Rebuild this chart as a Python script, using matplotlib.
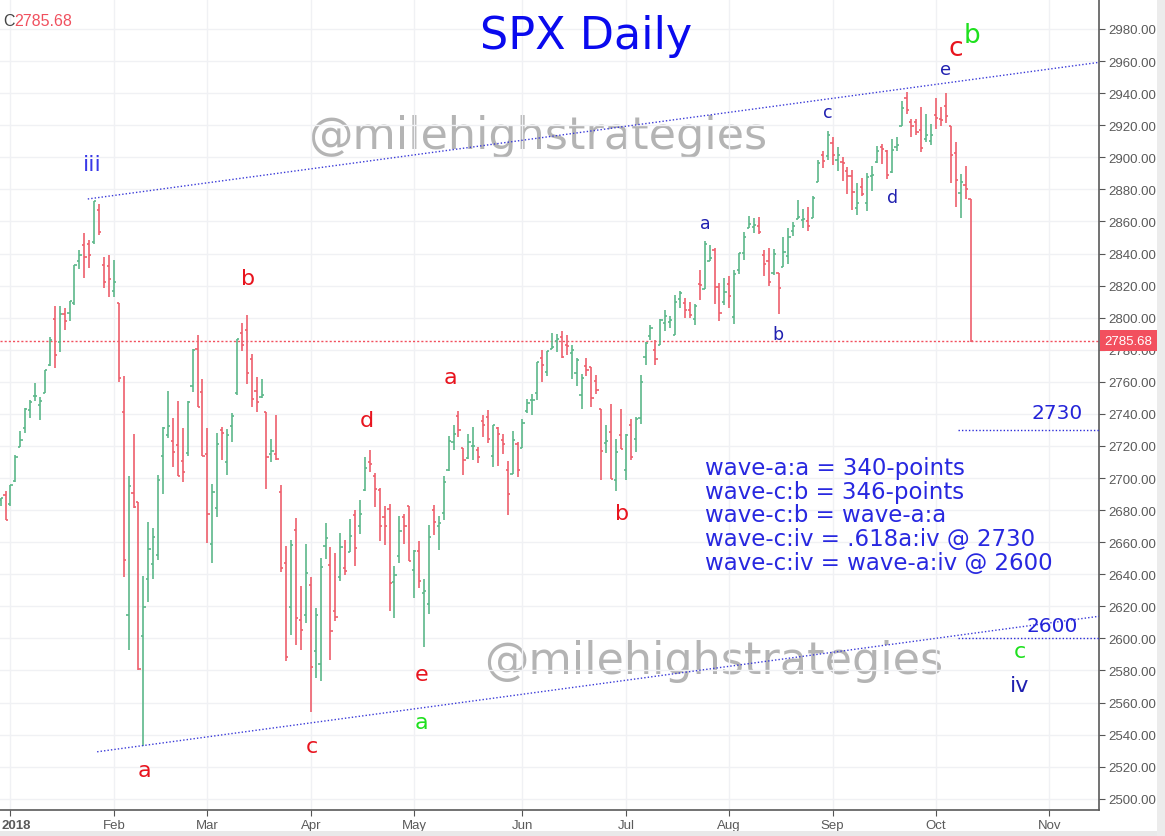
import numpy as np
import matplotlib.pyplot as plt
import matplotlib.transforms as mtransforms
from matplotlib.patches import Rectangle

# SPX daily OHLC, 2017-12-28 .. 2018-10-10 (trading days only)
opens = [2686.10, 2689.15,
    2683.73, 2697.85, 2719.31, 2731.33, 2742.67, 2751.15, 2745.55, 2752.97, 2770.18, 2798.96, 2784.99,
    2802.40, 2802.60, 2809.16, 2835.05, 2845.42, 2846.24, 2847.48, 2867.23, 2832.74, 2832.41,
    2816.45, 2808.92, 2741.06, 2614.78, 2690.95, 2685.01, 2601.78, 2636.75, 2646.27, 2651.83,
    2713.46, 2727.14, 2722.99, 2720.53, 2710.42, 2715.80, 2757.37, 2780.45, 2753.78,
    2715.22, 2658.89, 2681.06, 2730.18, 2710.18, 2732.75, 2752.91, 2790.54, 2792.31, 2774.06, 2754.27,
    2750.57, 2740.95, 2715.05, 2714.99, 2691.36, 2646.71, 2619.35, 2667.57, 2611.30, 2614.41,
    2633.45, 2592.17, 2584.04, 2657.36, 2645.82, 2617.18, 2638.41, 2643.79, 2653.83, 2676.90, 2670.10,
    2692.74, 2710.11, 2701.16, 2692.56, 2675.40, 2680.80, 2634.92, 2651.65, 2675.47, 2682.51,
    2642.96, 2654.24, 2628.08, 2621.45, 2680.34, 2670.26, 2678.12, 2705.02, 2722.70, 2738.47, 2718.59,
    2712.62, 2719.71, 2717.35, 2735.39, 2738.34, 2713.98, 2730.94, 2723.60, 2705.11, 2702.43, 2720.98,
    2718.70, 2741.67, 2748.46, 2753.25, 2774.84, 2765.84, 2780.18, 2785.60, 2787.94, 2783.21, 2777.78,
    2765.79, 2752.01, 2769.73, 2769.28, 2760.79, 2742.94, 2722.12, 2728.45, 2698.69, 2727.13,
    2704.95, 2733.27, 2724.19, 2737.68, 2775.62, 2788.56, 2779.82, 2783.14, 2796.93, 2797.36, 2789.34,
    2811.35, 2809.37, 2804.55, 2799.17, 2820.68, 2817.73, 2835.49, 2842.35, 2819.00, 2809.73,
    2821.17, 2800.48, 2829.62, 2840.29, 2855.92, 2856.79, 2857.19, 2838.90, 2835.46, 2827.88, 2827.95,
    2831.44, 2838.32, 2853.93, 2861.51, 2860.99, 2860.29, 2862.35, 2884.69, 2901.45, 2900.62, 2908.94, 2898.37,
    2896.96, 2891.59, 2888.64, 2868.26, 2881.39, 2871.57, 2888.29, 2896.85, 2906.38, 2903.83,
    2890.74, 2906.60, 2919.73, 2936.76, 2921.83, 2921.75, 2916.98, 2911.65, 2910.03,
    2926.29, 2923.80, 2931.69, 2919.35, 2902.54, 2877.53, 2882.51, 2873.90]

highs = [2687.66, 2692.12,
    2695.89, 2714.37, 2729.29, 2743.45, 2748.51, 2759.14, 2750.80, 2767.56, 2787.85, 2807.54, 2807.04,
    2805.83, 2810.33, 2833.03, 2842.24, 2852.97, 2848.56, 2872.87, 2870.62, 2837.75, 2839.26,
    2835.96, 2808.92, 2763.39, 2701.04, 2727.67, 2685.27, 2638.67, 2672.61, 2668.84, 2702.10,
    2731.51, 2754.42, 2737.60, 2747.75, 2731.26, 2747.76, 2780.64, 2789.15, 2761.52,
    2730.89, 2696.25, 2728.09, 2732.08, 2730.60, 2740.45, 2786.57, 2796.98, 2801.90, 2777.11, 2763.03,
    2761.85, 2740.95, 2724.22, 2739.14, 2695.68, 2657.67, 2661.36, 2674.78, 2632.65, 2659.07,
    2638.30, 2619.14, 2649.86, 2672.08, 2656.88, 2653.55, 2665.45, 2661.43, 2674.72, 2680.26, 2686.49,
    2713.34, 2717.49, 2702.84, 2693.94, 2682.86, 2683.55, 2645.30, 2676.48, 2677.35, 2682.87,
    2655.27, 2660.87, 2637.14, 2670.93, 2683.35, 2676.34, 2701.27, 2726.11, 2732.86, 2742.10, 2718.59,
    2727.76, 2731.96, 2719.50, 2739.19, 2742.24, 2733.33, 2731.97, 2727.36, 2710.67, 2729.34, 2722.50,
    2736.93, 2749.16, 2752.61, 2772.39, 2779.90, 2779.39, 2790.21, 2789.80, 2791.47, 2789.06, 2782.81,
    2774.99, 2765.05, 2774.86, 2769.28, 2764.17, 2742.94, 2732.91, 2746.09, 2724.34, 2743.26,
    2727.26, 2736.58, 2737.83, 2764.41, 2784.65, 2795.58, 2785.91, 2799.22, 2804.53, 2801.19, 2814.19,
    2816.76, 2812.05, 2809.70, 2808.61, 2829.99, 2848.03, 2845.57, 2843.17, 2821.74, 2824.46,
    2825.83, 2829.91, 2840.38, 2853.29, 2863.43, 2862.44, 2862.48, 2842.20, 2843.40, 2843.11, 2827.95,
    2850.49, 2855.63, 2859.76, 2873.23, 2867.54, 2868.78, 2876.16, 2898.25, 2903.77, 2916.50, 2912.46, 2906.32,
    2900.18, 2894.21, 2892.05, 2883.81, 2886.93, 2890.43, 2894.65, 2906.76, 2908.30, 2904.65,
    2911.17, 2912.36, 2934.80, 2940.91, 2923.79, 2923.95, 2931.15, 2927.22, 2920.53,
    2937.06, 2931.42, 2939.86, 2919.78, 2909.64, 2889.45, 2894.83, 2874.02]

lows = [2682.69, 2673.61,
    2682.36, 2697.77, 2719.07, 2727.92, 2737.60, 2747.86, 2736.06, 2752.78, 2769.64, 2768.64, 2778.38,
    2792.56, 2798.08, 2808.12, 2830.59, 2824.81, 2830.94, 2846.18, 2851.48, 2818.27, 2813.04,
    2812.70, 2759.97, 2638.17, 2593.07, 2681.33, 2580.56, 2532.69, 2622.45, 2637.08, 2648.87,
    2689.82, 2725.11, 2706.76, 2701.29, 2697.77, 2713.74, 2753.78, 2744.22, 2713.54,
    2659.65, 2647.32, 2675.75, 2711.26, 2701.74, 2722.65, 2751.54, 2779.26, 2758.68, 2744.38, 2741.47,
    2749.97, 2693.38, 2710.05, 2711.11, 2641.59, 2585.89, 2601.81, 2596.12, 2593.06, 2609.72,
    2553.80, 2575.49, 2573.61, 2649.58, 2586.27, 2610.79, 2635.78, 2639.25, 2653.83, 2645.05, 2665.16,
    2692.05, 2703.63, 2681.90, 2660.61, 2657.99, 2617.32, 2612.67, 2647.16, 2659.01, 2648.04,
    2625.41, 2631.70, 2594.62, 2615.32, 2664.70, 2655.20, 2674.14, 2704.54, 2717.45, 2725.47, 2701.91,
    2712.17, 2711.36, 2709.18, 2725.70, 2721.88, 2707.16, 2707.38, 2714.99, 2676.81, 2702.43, 2700.68,
    2718.70, 2740.54, 2739.51, 2748.46, 2760.16, 2763.59, 2780.17, 2778.78, 2774.65, 2776.52, 2761.73,
    2757.12, 2743.19, 2763.91, 2744.39, 2752.68, 2698.67, 2715.60, 2699.38, 2691.99, 2718.03,
    2698.95, 2711.16, 2716.02, 2733.52, 2770.73, 2786.24, 2770.77, 2783.14, 2791.69, 2793.39, 2789.24,
    2805.89, 2799.77, 2800.01, 2795.14, 2811.12, 2817.73, 2835.26, 2808.34, 2798.11, 2808.06,
    2805.85, 2796.34, 2827.37, 2835.98, 2855.92, 2853.09, 2851.98, 2825.81, 2819.88, 2826.58, 2802.49,
    2831.44, 2833.73, 2850.62, 2861.32, 2856.05, 2854.03, 2862.35, 2884.69, 2893.50, 2898.40, 2895.22, 2891.73,
    2885.13, 2876.92, 2867.29, 2864.12, 2875.94, 2866.78, 2879.20, 2896.39, 2895.77, 2886.16,
    2890.43, 2903.82, 2919.73, 2927.11, 2912.63, 2913.70, 2903.28, 2909.27, 2907.50,
    2917.91, 2919.37, 2921.36, 2883.92, 2869.29, 2862.08, 2874.27, 2784.86]

closes = [2687.54, 2673.61,
    2695.81, 2713.06, 2723.99, 2743.15, 2747.71, 2751.29, 2748.23, 2767.56, 2786.24, 2776.42, 2802.56,
    2798.03, 2810.30, 2832.97, 2839.13, 2837.54, 2839.25, 2872.87, 2853.53, 2822.43, 2823.81,
    2821.98, 2762.13, 2648.94, 2695.14, 2681.66, 2581.00, 2619.55, 2656.00, 2662.94, 2698.63,
    2731.20, 2732.22, 2716.26, 2701.33, 2703.96, 2747.30, 2779.60, 2744.28, 2713.83,
    2677.67, 2691.25, 2720.94, 2728.12, 2726.80, 2738.97, 2786.57, 2783.02, 2765.31, 2749.48, 2747.33,
    2752.01, 2712.92, 2716.94, 2711.93, 2643.69, 2588.26, 2658.55, 2612.62, 2605.00, 2640.87,
    2581.88, 2614.45, 2644.69, 2662.84, 2604.47, 2613.16, 2656.87, 2642.19, 2663.99, 2656.30, 2677.84,
    2706.39, 2708.64, 2693.13, 2670.14, 2670.29, 2634.56, 2639.40, 2666.94, 2669.91, 2648.05,
    2654.80, 2635.67, 2629.73, 2663.42, 2672.63, 2671.92, 2697.79, 2723.07, 2727.72, 2730.13, 2711.45,
    2722.46, 2720.13, 2712.97, 2733.01, 2724.44, 2733.29, 2727.76, 2721.33, 2689.86, 2724.01, 2705.27,
    2734.62, 2746.87, 2748.80, 2772.35, 2770.37, 2779.03, 2782.00, 2786.85, 2775.63, 2782.49, 2779.66,
    2773.75, 2762.59, 2767.32, 2749.76, 2754.88, 2717.07, 2723.06, 2699.63, 2716.31, 2718.37,
    2726.71, 2713.22, 2736.61, 2759.82, 2784.17, 2793.84, 2774.02, 2798.29, 2801.31, 2798.43, 2809.55,
    2815.62, 2804.49, 2801.83, 2806.98, 2820.40, 2846.07, 2837.44, 2818.82, 2802.60, 2816.29,
    2813.36, 2827.22, 2840.35, 2850.40, 2858.45, 2857.70, 2853.58, 2833.28, 2821.93, 2839.96, 2818.37,
    2840.69, 2850.13, 2857.05, 2862.96, 2861.82, 2856.98, 2874.69, 2896.74, 2897.52, 2914.04, 2901.13, 2901.52,
    2896.72, 2888.60, 2878.05, 2871.68, 2877.13, 2887.89, 2888.92, 2904.18, 2904.98, 2888.80,
    2904.31, 2907.95, 2930.75, 2929.67, 2919.37, 2915.56, 2905.97, 2914.00, 2913.98,
    2924.59, 2923.43, 2925.51, 2901.61, 2885.57, 2884.43, 2880.34, 2785.68]

month_labels = ['2018', 'Feb', 'Mar', 'Apr', 'May', 'Jun', 'Jul', 'Aug', 'Sep', 'Oct', 'Nov']
month_pos = [0, 21, 40, 61, 82, 104, 125, 146, 167, 188, 211]   # bar index (0 = Jan 2)

# channel lines and target levels
upper_x, upper_y = [15.7, 221.1], [2874.0, 2959.2]
lower_x, lower_y = [17.6, 221.1], [2529.3, 2613.8]
targets = [2730, 2600]

info = ("wave-a:a = 340-points\nwave-c:b = 346-points\nwave-c:b = wave-a:a\n"
        "wave-c:iv = .618a:iv @ 2730\nwave-c:iv = wave-a:iv @ 2600")

red, green, navy = '#e8141e', '#1ee01e', '#2020b0'
# wave labels: (bar index, price, text, color, size)
wave_labels = [
    (16.6, 2896, 'iii', '#3838e8', 16),
    (27.3, 2518, 'a', red, 16), (48.2, 2825, 'b', red, 16),
    (61.2, 2533, 'c', red, 16), (72.4, 2736, 'd', red, 16),
    (83.4, 2578, 'e', red, 16), (83.4, 2548, 'a', green, 16),
    (89.3, 2763, 'a', red, 16), (124.2, 2678, 'b', red, 16),
    (141.1, 2859, 'a', navy, 12.5), (155.9, 2790, 'b', navy, 12.5),
    (166.1, 2928, 'c', navy, 12.5), (179.1, 2875, 'd', navy, 12.5),
    (190.0, 2955, 'e', navy, 13),
    (192.1, 2968, 'c', red, 19), (195.3, 2976, 'b', green, 19),
    (212.6, 2741, '2730', '#2424d8', 14.5), (211.6, 2608, '2600', '#2424d8', 14.5),
    (205.1, 2592, 'c', green, 16), (204.9, 2571, 'iv', navy, 16),
]

up_col, dn_col = '#5cb88a', '#ee5f6c'

opens, highs, lows, closes = map(np.array, (opens, highs, lows, closes))
idx = np.arange(len(closes)) - 2
cols = np.where(closes >= opens, up_col, dn_col)

fig = plt.figure(figsize=(11.65, 8.37), dpi=100)
ax = fig.add_axes([0, 26 / 837, 1099 / 1165, 811 / 837])

ax.vlines(idx, lows, highs, colors=cols, lw=1.2, zorder=3)
ax.hlines(opens, idx - 0.45, idx, colors=cols, lw=1.2, zorder=3)
ax.hlines(closes, idx, idx + 0.45, colors=cols, lw=1.2, zorder=3)

ax.plot(upper_x, upper_y, ls=(0, (1, 1.5)), color='#3a3ad8', lw=1.0, zorder=4)
ax.plot(lower_x, lower_y, ls=(0, (1, 1.5)), color='#3a3ad8', lw=1.0, zorder=4)
for t in targets:
    ax.plot([192.5, 221.1], [t, t], ls=(0, (1, 1.5)), color='#2c2cd8', lw=1.0, zorder=4)
ax.axhline(closes[-1], ls=(0, (1.5, 1.5)), color='#f2505e', lw=1.0, zorder=2)

ax.set_xlim(-2.13, 221.1)
ax.set_ylim(2493.0, 2998.7)

ax.set_yticks(np.arange(2500, 2981, 20))
ax.yaxis.set_major_formatter(plt.FormatStrFormatter('%.2f'))
ax.yaxis.tick_right()
ax.set_xticks(month_pos)
ax.set_xticklabels(month_labels)
ax.tick_params(axis='both', direction='out', length=4, color='#555555', labelcolor='#5a5a5a',
               labelsize=9.5)
ax.tick_params(axis='y', pad=2.5)
ax.tick_params(axis='x', pad=2.5)
for lab in ax.get_xticklabels() + ax.get_yticklabels():
    lab.set_fontfamily('Liberation Sans')
# the year label sits flush with the left edge, as in the screenshot
first = ax.get_xticklabels()[0]
first.set_fontweight('bold')
first.set_horizontalalignment('left')
first.set_transform(first.get_transform() +
                    mtransforms.ScaledTranslation(-9 / 100, 0, fig.dpi_scale_trans))
ax.grid(True, color='#f0f1f4', lw=1.0, zorder=0)
for s in ['top', 'left']:
    ax.spines[s].set_visible(False)
for s in ['right', 'bottom']:
    ax.spines[s].set_color('#5a5a5a')
    ax.spines[s].set_linewidth(1.2)

# last price tag on the axis
trans = mtransforms.blended_transform_factory(ax.transAxes, ax.transData)
ax.annotate('%.2f' % closes[-1], xy=(1, closes[-1]), xycoords=trans, xytext=(4, 0),
            textcoords='offset points', ha='left', va='center', color='white', fontsize=9.5,
            family='Liberation Sans', annotation_clip=False, zorder=10,
            bbox=dict(boxstyle='square,pad=0.35', fc='#f2505e', ec='none'))

# title, watermarks, notes
ax.text(116.9, 2968.0, 'SPX Daily', color='#0a0aee', fontsize=32, ha='center', va='baseline')
ax.text(107.0, 2913.5, '@milehighstrategies', color='#b4b4b4', fontsize=32, ha='center',
        va='center', zorder=1)
ax.text(142.9, 2586.0, '@milehighstrategies', color='#b4b4b4', fontsize=32, ha='center',
        va='center', zorder=1)
ax.text(141.1, 2713.5, info, color='#2828e0', fontsize=16.5, ha='left', va='top', linespacing=1.03)

for x, y, s, c, fs in wave_labels:
    ax.text(x, y, s, color=c, fontsize=fs, ha='center', va='center', zorder=6)

fig.text(3 / 1165, 1 - 22 / 837, 'C', color='#444444', fontsize=11.5, va='center', family='Liberation Sans')
fig.text(14 / 1165, 1 - 22 / 837, '%.2f' % closes[-1], color='#f0505e', fontsize=11.5, va='center',
         family='Liberation Sans')

# grey frame strips of the screenshot
fig.patches.append(Rectangle((0, 0), 1, 5 / 837, transform=fig.transFigure, fc='#e9e9e9', ec='none'))
fig.patches.append(Rectangle((1157 / 1165, 0), 8 / 1165, 1, transform=fig.transFigure, fc='#ececec', ec='none'))

fig.savefig('out.png', dpi=100)
